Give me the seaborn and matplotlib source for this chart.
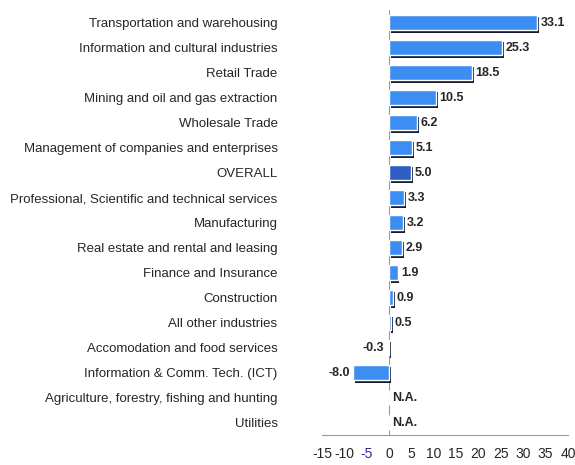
import matplotlib
matplotlib.use("Agg")
import matplotlib.pyplot as plt
import matplotlib.patheffects as pe
import seaborn as sns
import pandas as pd
import numpy as np

industries = [
    "Transportation and warehousing",
    "Information and cultural industries",
    "Retail Trade",
    "Mining and oil and gas extraction",
    "Wholesale Trade",
    "Management of companies and enterprises",
    "OVERALL",
    "Professional, Scientific and technical services",
    "Manufacturing",
    "Real estate and rental and leasing",
    "Finance and Insurance",
    "Construction",
    "All other industries",
    "Accomodation and food services",
    "Information & Comm. Tech. (ICT)",
    "Agriculture, forestry, fishing and hunting",
    "Utilities",
]
growth = [33.1, 25.3, 18.5, 10.5, 6.2, 5.1, 5.0, 3.3, 3.2, 2.9, 1.9, 0.9, 0.5, -0.3, -8.0, np.nan, np.nan]
x_ticks = [-15, -10, -5, 0, 5, 10, 15, 20, 25, 30, 35, 40]

df = pd.DataFrame({"industry": industries, "growth": growth})
df["bar"] = df["growth"].fillna(0)

sns.set_style("white")
plt.rcParams["font.family"] = ["Liberation Sans", "DejaVu Sans"]

fig = plt.figure(figsize=(5.75, 4.65), dpi=100)
ax = fig.add_axes([322 / 575, 1 - 435 / 465, 246 / 575, 425 / 465])

palette = ["#2f5fc4" if name == "OVERALL" else "#3d8ef2" for name in industries]
sns.barplot(data=df, y="industry", x="bar", hue="industry", palette=palette,
            legend=False, orient="h", width=0.62, saturation=1, ax=ax)

# shadow on the right and bottom of every bar
for patch in ax.patches:
    patch.set_path_effects([
        pe.SimplePatchShadow(offset=(1.3, -1.8), shadow_rgbFace="#151c30", alpha=1.0),
        pe.Normal(),
    ])

# value labels
for i, v in enumerate(growth):
    if np.isnan(v):
        ax.text(0.7, i, "N.A.", va="center", ha="left", fontsize=9, fontweight="bold")
    elif v >= 0:
        ax.text(v + 0.8, i, f"{v:.1f}", va="center", ha="left", fontsize=9, fontweight="bold")
    else:
        ax.text(v - 0.8, i, f"{v:.1f}", va="center", ha="right", fontsize=9, fontweight="bold")

ax.set_xlim(-15, 40)
ax.set_ylim(16.5, -0.5)
ax.set_xticks(x_ticks)
ax.set_xticklabels([str(t) for t in x_ticks], fontsize=10)
ax.get_xticklabels()[2].set_color("#2a2a9a")
ax.tick_params(axis="x", direction="in", length=3, width=0.6, color="#888888", pad=9)
ax.tick_params(axis="y", length=0, labelsize=9.5, pad=32)
ax.set_xlabel("")
ax.set_ylabel("")

for side in ["top", "right", "left"]:
    ax.spines[side].set_visible(False)
ax.spines["bottom"].set_color("#999999")
ax.spines["bottom"].set_linewidth(0.8)
ax.axvline(0, color="#999999", linewidth=0.8, zorder=0)

fig.savefig("out.png", dpi=100)
